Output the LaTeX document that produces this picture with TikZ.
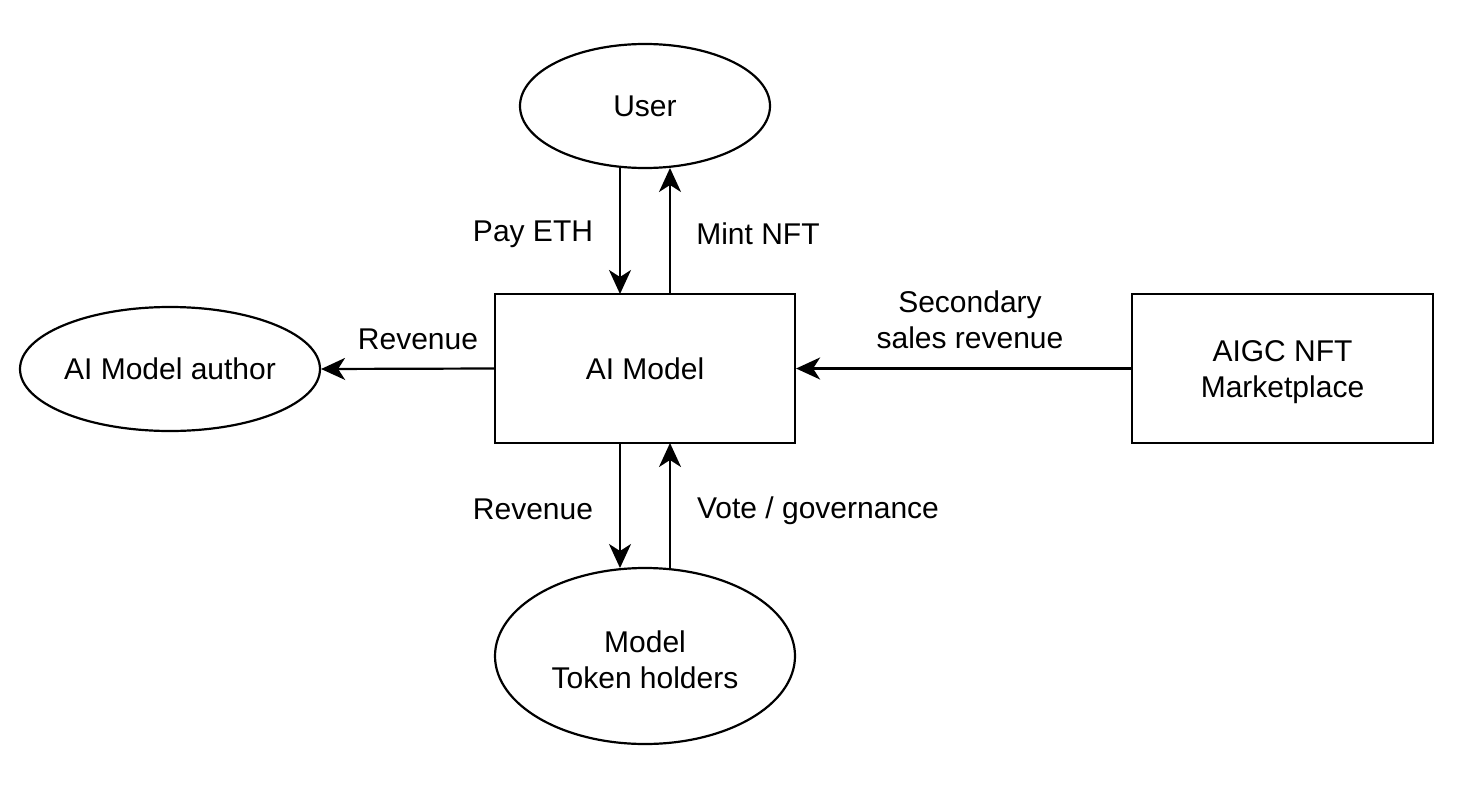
\documentclass[tikz,border=0pt]{standalone}
\usepackage{fontspec}
\setmainfont{Liberation Sans}
\usetikzlibrary{shapes.geometric,arrows.meta}
\tikzset{
  base/.style={draw=black, line width=2.2pt, font=\fontsize{30}{36}\selectfont, align=center, inner sep=0pt},
  ell/.style={base, ellipse},
  box/.style={base, rectangle},
  conn/.style={line width=2.2pt, -{Stealth[length=24pt,width=22pt,inset=7pt]}},
  lbl/.style={font=\fontsize{30}{36}\selectfont, align=center, inner sep=0pt}
}
\begin{document}
\begin{tikzpicture}[x=1pt,y=-1pt]
\useasboundingbox (0,0) rectangle (1464,808);
\node[ell, minimum width=250pt, minimum height=124pt] (user) at (645,106) {User};
\node[ell, minimum width=300pt, minimum height=124pt] (author) at (170,369) {AI Model author};
\node[box, minimum width=300pt, minimum height=149pt] (model) at (645,368.5) {AI Model};
\node[box, minimum width=301pt, minimum height=149pt] (market) at (1282.5,368.5) {};
\node[lbl] (markettext) at (1282.5,372.5) {AIGC NFT\\Marketplace};
\node[ell, minimum width=300pt, minimum height=176pt] (holders) at (645,656) {};
\node[lbl] (holderstext) at (645,660) {Model\\Token holders};

\coordinate (uA) at (620,168);
\coordinate (uB) at (670,168);
\coordinate (mA) at (620,294);
\coordinate (mB) at (670,294);
\coordinate (mC) at (620,443);
\coordinate (mD) at (670,443);
\coordinate (hA) at (620,568);
\coordinate (hB) at (670,568);

\draw[conn] (uA) -- (mA);
\draw[conn] (mB) -- (uB);
\draw[conn] (model.west) -- (author.east);
\draw[conn] (market.west) -- (model.east);
\draw[conn] (mC) -- (hA);
\draw[conn] (hB) -- (mD);

\node[lbl] (l1) at (533,234) {Pay ETH};
\node[lbl] (l2) at (758,234) {Mint NFT};
\node[lbl] (l3) at (418,339) {Revenue};
\node[lbl] (l4) at (970,320) {Secondary\\sales revenue};
\node[lbl] (l5) at (533,509) {Revenue};
\node[lbl] (l6) at (818,511) {Vote / governance};
\end{tikzpicture}
\end{document}
